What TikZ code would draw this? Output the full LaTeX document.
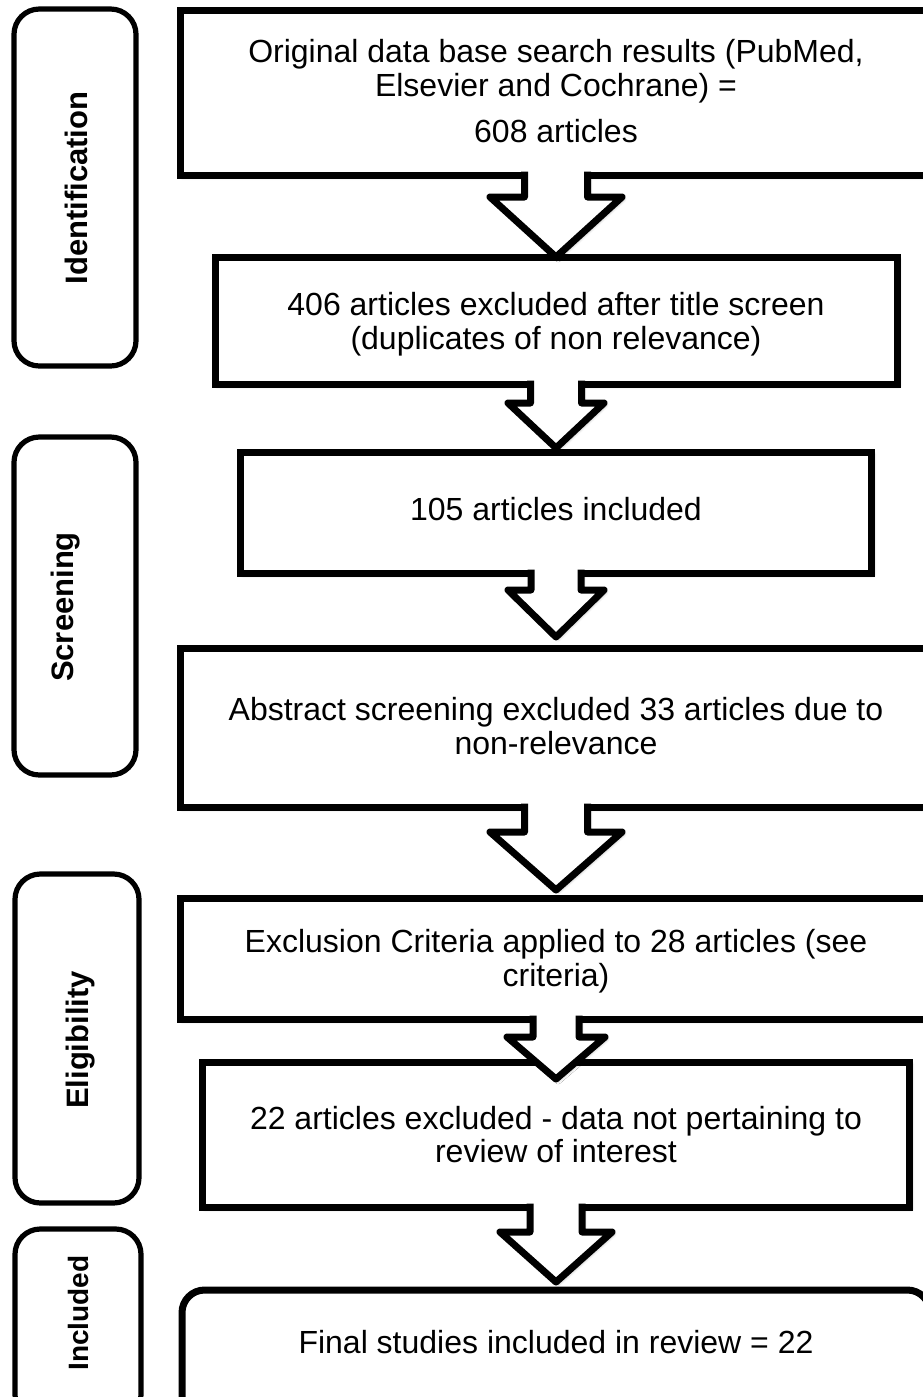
\documentclass[tikz,border=0pt]{standalone}
\usepackage{fontspec}
\setmainfont{Liberation Sans}
\usetikzlibrary{shadows.blur}
\def\px{0.75pt}
\tikzset{
  softshadow/.style={blur shadow={shadow xshift=1.6pt, shadow yshift=-1.6pt, shadow opacity=35, shadow blur radius=2.2pt, shadow blur steps=6}},
  mainbox/.style 2 args={draw=black, fill=white, line width=5.25pt, inner sep=0pt, outer sep=0pt,
    minimum width=#1*\px, minimum height=#2*\px, softshadow},
  stagebox/.style 2 args={draw=black, fill=white, line width=3.9pt, inner sep=0pt, outer sep=0pt,
    rounded corners=19pt, minimum width=#1*\px, minimum height=#2*\px},
  arrowshape/.style={draw=black, fill=white, line width=5.25pt, line join=round, softshadow},
  maintext/.style={anchor=base, inner sep=0pt, font=\fontsize{24pt}{25.5pt}\selectfont},
  stagetext/.style={anchor=base, inner sep=0pt, rotate=90, font=\bfseries\fontsize{23.25pt}{26pt}\selectfont},
}
% #1 from node, #2 to node, #3 stem half width, #4 head half width,
% #5 shoulder offset below #1, #6 tip offset below #2.north
\newcommand\flowarrow[6]{%
  \path[arrowshape]
    ([shift={(-#3,-3.5)}]#1.south) -- ([shift={(-#3,#5)}]#1.south)
    -- ([shift={(-#4,#5)}]#1.south) -- ([shift={(0,#6)}]#2.north)
    -- ([shift={(#4,#5)}]#1.south) -- ([shift={(#3,#5)}]#1.south)
    -- ([shift={(#3,-3.5)}]#1.south);
}
\begin{document}
\begin{tikzpicture}[x=0.75pt, y=-0.75pt]
\useasboundingbox (0,0) rectangle (923,1397);
\clip (0,0) rectangle (923,1397);

% stage labels
\node[stagebox={122}{357}] (l1) at (75,187.5) {};
\node[stagebox={122}{338}] (l2) at (75,606) {};
\node[stagebox={124}{329}] (l3) at (77,1038.5) {};
\node[stagebox={126}{191}] (l4) at (78,1324.5) {};
\node[stagetext] (s1) at (87,188) {Identification};
\node[stagetext] (s2) at (73,607) {Screening};
\node[stagetext] (s3) at (88,1040) {Eligibility};
\node[stagetext, font=\bfseries\fontsize{21pt}{24pt}\selectfont] (s4) at (88,1313) {Included};

% main boxes
\node[mainbox={752}{165}] (b1) at (556,92.5) {};
\node[mainbox={682}{127}] (b2) at (556,320.5) {};
\node[mainbox={631}{121}] (b3) at (556,512.5) {};
\node[mainbox={752}{159}] (b4) at (556,727.5) {};
\node[mainbox={752}{121}] (b5) at (556,958.5) {};
\node[mainbox={707}{145}] (b6) at (556,1134.5) {};
\node[mainbox={748}{130}, rounded corners=17pt] (b7) at (556,1355) {};

% block arrows
\flowarrow{b1}{b2}{31.5}{66}{22}{0}
\flowarrow{b2}{b3}{25.5}{48}{19}{-4}
\flowarrow{b3}{b4}{25}{48}{17}{-11}
\flowarrow{b4}{b5}{31.5}{66}{25}{-8}
\flowarrow{b5}{b6}{23}{49}{18}{17}
\flowarrow{b6}{b7}{26}{56}{25}{-8}

% texts
\node[maintext] (t1a) at (556,62) {Original data base search results (PubMed,};
\node[maintext] (t1b) at (556,96) {Elsevier and Cochrane) =};
\node[maintext] (t1c) at (556,142) {608 articles};
\node[maintext] (t2a) at (556,315) {406 articles excluded after title screen};
\node[maintext] (t2b) at (556,349) {(duplicates of non relevance)};
\node[maintext] (t3) at (556,520) {105 articles included};
\node[maintext] (t4a) at (556,720) {Abstract screening excluded 33 articles due to};
\node[maintext] (t4b) at (556,754) {non-relevance};
\node[maintext] (t5a) at (556,952) {Exclusion Criteria applied to 28 articles (see};
\node[maintext] (t5b) at (556,986) {criteria)};
\node[maintext] (t6a) at (556,1129) {22 articles excluded - data not pertaining to};
\node[maintext] (t6b) at (556,1162) {review of interest};
\node[maintext] (t7) at (556,1353) {Final studies included in review = 22};
\end{tikzpicture}
\end{document}
